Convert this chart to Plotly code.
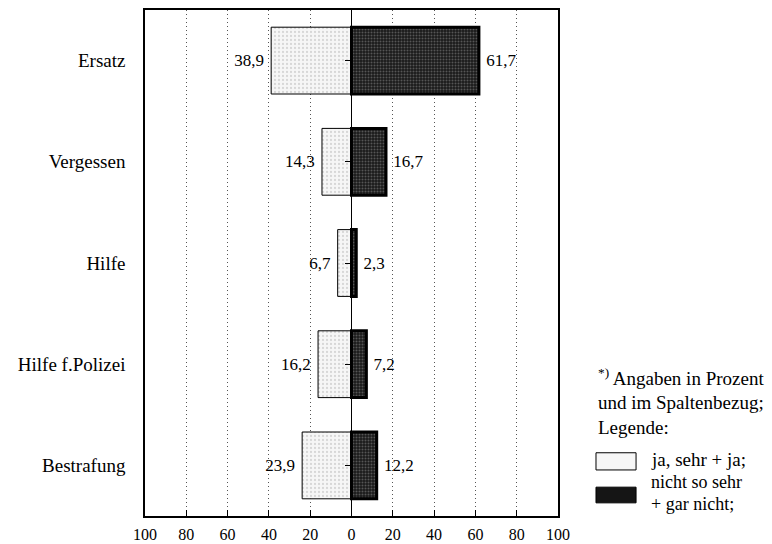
import plotly.graph_objects as go

categories = ["Ersatz", "Vergessen", "Hilfe", "Hilfe f.Polizei", "Bestrafung"]
ja_values = [38.9, 14.3, 6.7, 16.2, 23.9]
nicht_values = [61.7, 16.7, 2.3, 7.2, 12.2]
tick_vals = [-100, -80, -60, -40, -20, 0, 20, 40, 60, 80, 100]
tick_text = ["100", "80", "60", "40", "20", "0", "20", "40", "60", "80", "100"]

FONT = "Liberation Serif"
NB = "\u00a0"

def fmt(v):
    return f"{v:.1f}".replace(".", ",")

fig = go.Figure()
fig.add_trace(go.Bar(
    y=categories, x=[-v for v in ja_values], orientation="h",
    name="ja, sehr + ja;",
    text=[fmt(v) + NB for v in ja_values], textposition="outside",
    textfont=dict(family=FONT, size=17, color="black"),
    marker=dict(color="#f2f2f2", line=dict(color="black", width=1),
                pattern=dict(shape=".", fgcolor="#b8b8b8", bgcolor="#f6f6f6", size=4, solidity=0.25)),
    width=0.66, cliponaxis=False,
))
fig.add_trace(go.Bar(
    y=categories, x=nicht_values, orientation="h",
    name="nicht so sehr + gar nicht;",
    text=[NB + fmt(v) for v in nicht_values], textposition="outside",
    textfont=dict(family=FONT, size=17, color="black"),
    marker=dict(color="#111111", line=dict(color="black", width=3),
                pattern=dict(shape=".", fgcolor="#909090", bgcolor="#1a1a1a", size=3, solidity=0.35)),
    width=0.66, cliponaxis=False,
))
# invisible trace to show centre axis ticks
fig.add_trace(go.Scatter(y=categories, x=[0]*len(categories), yaxis="y2",
                         mode="markers", marker=dict(opacity=0), showlegend=False, hoverinfo="skip"))

fig.update_layout(
    width=772, height=544,
    margin=dict(l=145, r=214, t=10, b=28),
    paper_bgcolor="white", plot_bgcolor="white",
    barmode="relative", bargap=0.34,
    showlegend=False,
    font=dict(family=FONT, size=16, color="black"),
    xaxis=dict(range=[-100, 100], tickvals=tick_vals, ticktext=tick_text,
               ticks="inside", ticklen=6, tickcolor="black", automargin=False,
               ticklabelstandoff=3,
               showgrid=True, gridcolor="#555555", griddash="1px,3px", gridwidth=1,
               zeroline=True, zerolinecolor="black", zerolinewidth=1,
               showline=True, linecolor="black", linewidth=1.5, mirror=True,
               tickfont=dict(family=FONT, size=16)),
    yaxis=dict(categoryorder="array", categoryarray=categories, autorange="reversed",
               showgrid=False, ticks="", ticklabelstandoff=14, automargin=False,
               showline=True, linecolor="black", linewidth=1.5, mirror=True,
               tickfont=dict(family=FONT, size=19)),
    yaxis2=dict(overlaying="y", anchor="free", position=0.5, side="left",
                categoryorder="array", categoryarray=categories, autorange="reversed",
                matches="y", ticks="outside", ticklen=7, tickcolor="black",
                showticklabels=False, showgrid=False, showline=False),
)

ann = [
    dict(x=1.092, y=0.275, text="<sup>*)</sup> Angaben in Prozent", size=19),
    dict(x=1.092, y=0.225, text="und im Spaltenbezug;", size=19),
    dict(x=1.092, y=0.174, text="Legende:", size=19),
    dict(x=1.220, y=0.111, text="ja, sehr + ja;", size=19),
    dict(x=1.220, y=0.067, text="nicht so sehr", size=18),
    dict(x=1.220, y=0.024, text="+ gar nicht;", size=18),
]
for a in ann:
    fig.add_annotation(xref="paper", yref="paper", xanchor="left", yanchor="middle",
                       showarrow=False, x=a["x"], y=a["y"], text=a["text"],
                       font=dict(family=FONT, size=a["size"], color="black"))

fig.add_shape(type="rect", xref="paper", yref="paper", x0=1.092, x1=1.189, y0=0.091, y1=0.125,
              line=dict(color="black", width=1), fillcolor="#f6f6f6")
fig.add_shape(type="rect", xref="paper", yref="paper", x0=1.092, x1=1.189, y0=0.026, y1=0.057,
              line=dict(color="black", width=1), fillcolor="#151515")

fig.write_html("out.html", config={"displayModeBar": False},
               post_script="document.body.style.margin='0px';")
